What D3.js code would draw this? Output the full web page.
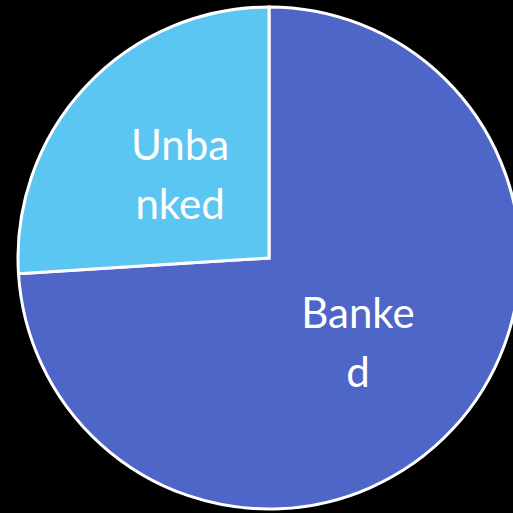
<!DOCTYPE html>
<html>
<head>
<meta charset="utf-8">
<script src="https://cdn.jsdelivr.net/npm/d3@7"></script>
<style>
  html, body { margin: 0; padding: 0; background: #000; }
  svg { display: block; }
</style>
</head>
<body>
<svg id="chart" width="513" height="513"></svg>
<script>
// Share of population by banking status (percent)
const categories = ["Banked", "Unbanked"];
const values = [74, 26];
// Labels wrap across two lines inside the slices
const labelLines = [["Banke", "d"], ["Unba", "nked"]];
const colors = ["#4f66c9", "#5bc6f2"];

const width = 513, height = 513;
const cx = 269, cy = 258, radius = 251;

const svg = d3.select("#chart");
svg.append("rect").attr("width", width).attr("height", height).attr("fill", "#000");

const g = svg.append("g").attr("transform", `translate(${cx},${cy})`);

const data = categories.map((c, i) => ({ name: c, value: values[i], lines: labelLines[i] }));

const pie = d3.pie().sort(null).value(d => d.value);
const arc = d3.arc().innerRadius(0).outerRadius(radius);
const labelArc = d3.arc().innerRadius(244).outerRadius(0);

const color = d3.scaleOrdinal().domain(categories).range(colors);

const arcs = pie(data);

g.selectAll("path.slice")
  .data(arcs)
  .join("path")
  .attr("class", "slice")
  .attr("d", arc)
  .attr("fill", d => color(d.data.name))
  .attr("stroke", "#fff")
  .attr("stroke-width", 3)
  .attr("stroke-linejoin", "miter");

const labels = g.selectAll("text.label")
  .data(arcs)
  .join("text")
  .attr("class", "label")
  .attr("transform", d => `translate(${labelArc.centroid(d)})`)
  .attr("text-anchor", "middle")
  .attr("fill", "#fff")
  .style("font-family", "Lato, 'Open Sans', sans-serif")
  .style("font-size", "42px");

labels.selectAll("tspan")
  .data(d => d.data.lines)
  .join("tspan")
  .attr("x", 0)
  .attr("y", (d, i) => i === 0 ? -14 : 45)
  .text(d => d);
</script>
</body>
</html>
